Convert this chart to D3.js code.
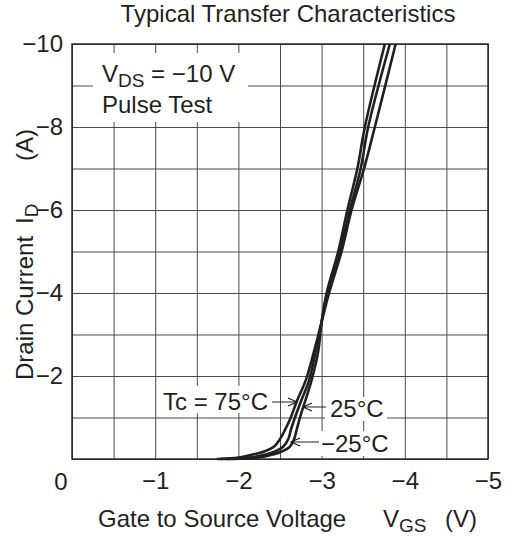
<!DOCTYPE html>
<html>
<head>
<meta charset="utf-8">
<script src="https://cdn.jsdelivr.net/npm/d3@7"></script>
<style>
  body { margin: 0; background: #fff; }
  svg text { font-family: "Liberation Sans", Arial, sans-serif; fill: #231f20; }
</style>
</head>
<body>
<figure id="transfer" style="margin:0"></figure>
<script>
// tick labels
const vgsTicks = [-1, -2, -3, -4, -5];
const idTicks = [-2, -4, -6, -8, -10];

// curves (V_GS in V, I_D in A)
const idPts  = [0, -0.02, -0.05, -0.1, -0.18, -0.3, -0.48, -0.7, -1.0, -1.38, -1.9, -2.6, -3.3, -4, -5, -6, -7, -8, -10];
const vgsM25 = [-1.84, -2.14, -2.28, -2.40, -2.52, -2.62, -2.67, -2.70, -2.74, -2.80, -2.88, -2.96, -3.00, -3.06, -3.20, -3.31, -3.43, -3.52, -3.76];
const vgs25  = [-1.78, -2.02, -2.19, -2.32, -2.44, -2.54, -2.60, -2.63, -2.68, -2.75, -2.85, -2.93, -3.00, -3.07, -3.22, -3.34, -3.47, -3.56, -3.82];
const vgs75  = [-1.74, -1.92, -2.04, -2.16, -2.31, -2.43, -2.50, -2.56, -2.63, -2.70, -2.81, -2.91, -3.00, -3.09, -3.24, -3.36, -3.51, -3.64, -3.89];

const width = 508;
const height = 536;
const margin = ({ top: 44, right: 20, bottom: 77, left: 72 });
const ink = "#231f20";
const fs = 24;

const svg = d3.select("figure#transfer")
  .append("svg")
  .attr("width", width)
  .attr("height", height);

const x = d3.scaleLinear().domain([0, -5]).range([margin.left, width - margin.right]);
const y = d3.scaleLinear().domain([0, -10]).range([height - margin.bottom, margin.top]);
const fmt = d => d === 0 ? "0" : "\u2212" + Math.abs(d);

// grid
svg.append("g")
  .attr("transform", "translate(0," + y(0) + ")")
  .call(d3.axisBottom(x).ticks(10).tickSize(-(y(0) - y(-10))).tickFormat(""))
  .call(g => g.select(".domain").remove())
  .selectAll("line").attr("stroke", "#4a4a4a").attr("stroke-width", 1);

svg.append("g")
  .attr("transform", "translate(" + x(0) + ",0)")
  .call(d3.axisLeft(y).ticks(10).tickSize(-(x(-5) - x(0))).tickFormat(""))
  .call(g => g.select(".domain").remove())
  .selectAll("line").attr("stroke", "#4a4a4a").attr("stroke-width", 1);

// frame
svg.append("rect")
  .attr("x", x(0)).attr("y", y(-10))
  .attr("width", x(-5) - x(0)).attr("height", y(0) - y(-10))
  .attr("fill", "none").attr("stroke", ink).attr("stroke-width", 1.4);

// tick labels
svg.append("g")
  .attr("transform", "translate(0," + y(0) + ")")
  .call(d3.axisBottom(x).tickValues(vgsTicks).tickSize(0).tickPadding(13).tickFormat(fmt))
  .call(g => g.select(".domain").remove())
  .selectAll("text").attr("font-size", fs).attr("fill", ink);

svg.append("g")
  .attr("transform", "translate(" + (x(0) - 9) + ",0)")
  .call(d3.axisLeft(y).tickValues(idTicks).tickSize(0).tickPadding(0).tickFormat(fmt))
  .call(g => g.select(".domain").remove())
  .selectAll("text").attr("font-size", fs).attr("fill", ink);

svg.append("text").attr("x", 61).attr("y", 490).attr("text-anchor", "middle")
  .attr("font-size", fs).text("0");

// curves
const line = d3.line()
  .x(d => x(d[0]))
  .y(d => y(d[1]))
  .curve(d3.curveCatmullRom.alpha(0.5));

[vgsM25, vgs25, vgs75].forEach(vs => {
  svg.append("path")
    .datum(vs.map((v, i) => [v, idPts[i]]))
    .attr("d", line)
    .attr("fill", "none")
    .attr("stroke", ink)
    .attr("stroke-width", 2.6);
});

// condition box
svg.append("rect").attr("x", 93).attr("y", 53).attr("width", 155).attr("height", 69).attr("fill", "#fff");
const cond = svg.append("text").attr("x", 102).attr("y", 82).attr("font-size", fs);
cond.append("tspan").text("V");
cond.append("tspan").attr("font-size", 19).attr("dy", 5).text("DS");
cond.append("tspan").attr("dy", -5).text(" = \u221210 V");
svg.append("text").attr("x", 102).attr("y", 113).attr("font-size", fs).text("Pulse Test");

// temperature labels with arrows
const labels = [
  { text: "Tc = 75\u00b0C", tx: 268, ty: 410, anchor: "end", bx: 158, bw: 112, by: 386, bh: 27, from: 272, to: 297, ay: 402 },
  { text: "25\u00b0C", tx: 330, ty: 417, anchor: "start", bx: 325, bw: 62, by: 397, bh: 24, from: 326, to: 303, ay: 407 },
  { text: "\u221225\u00b0C", tx: 321, ty: 452, anchor: "start", bx: 318, bw: 76, by: 431, bh: 25, from: 319, to: 291, ay: 442 }
];
labels.forEach(l => {
  svg.append("rect").attr("x", l.bx).attr("y", l.by).attr("width", l.bw).attr("height", l.bh).attr("fill", "#fff");
  svg.append("text").attr("x", l.tx).attr("y", l.ty).attr("text-anchor", l.anchor).attr("font-size", fs).text(l.text);
  const dir = Math.sign(l.to - l.from);
  svg.append("path")
    .attr("d", "M" + l.from + "," + l.ay + "H" + l.to +
      "M" + (l.to - dir * 9) + "," + (l.ay - 4) + "L" + l.to + "," + l.ay + "L" + (l.to - dir * 9) + "," + (l.ay + 4))
    .attr("fill", "none").attr("stroke", ink).attr("stroke-width", 1.2);
});

// title
svg.append("text").attr("x", 288).attr("y", 22).attr("text-anchor", "middle")
  .attr("font-size", fs).text("Typical Transfer Characteristics");

// x title
svg.append("text").attr("x", 98).attr("y", 527).attr("font-size", fs).text("Gate to Source Voltage");
const vgsLab = svg.append("text").attr("x", 383).attr("y", 527).attr("font-size", fs);
vgsLab.append("tspan").text("V");
vgsLab.append("tspan").attr("font-size", 19).attr("dy", 5).text("GS");
svg.append("text").attr("x", 445).attr("y", 527).attr("font-size", fs).text("(V)");

// y title
const yl = svg.append("g").attr("transform", "translate(33,0) rotate(-90)");
yl.append("text").attr("x", -380).attr("y", 0).attr("font-size", fs).text("Drain Current");
const idLab = yl.append("text").attr("x", -224).attr("y", 0).attr("font-size", fs);
idLab.append("tspan").text("I");
idLab.append("tspan").attr("font-size", 19).attr("dy", 5).text("D");
yl.append("text").attr("x", -161).attr("y", 0).attr("font-size", fs).text("(A)");
</script>
</body>
</html>
